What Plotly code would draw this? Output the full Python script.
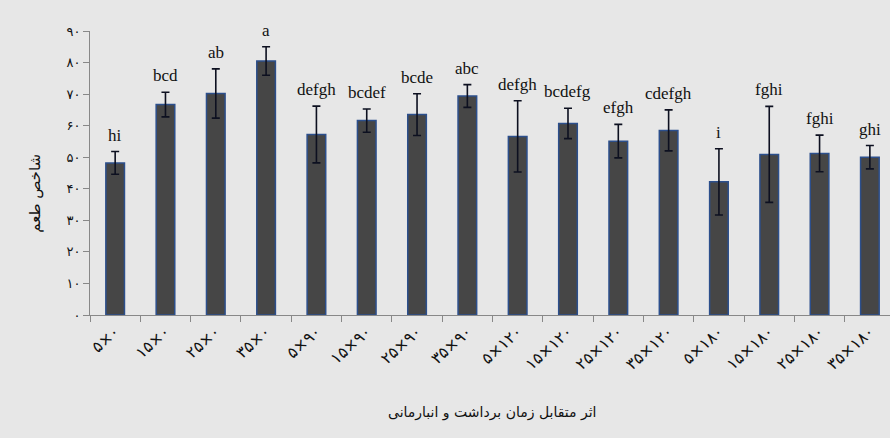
import plotly.graph_objects as go

categories = ["۵×۰", "۱۵×۰", "۲۵×۰", "۳۵×۰",
              "۵×۹۰", "۱۵×۹۰", "۲۵×۹۰", "۳۵×۹۰",
              "۵×۱۲۰", "۱۵×۱۲۰", "۲۵×۱۲۰", "۳۵×۱۲۰",
              "۵×۱۸۰", "۱۵×۱۸۰", "۲۵×۱۸۰", "۳۵×۱۸۰"]
values = [48.2, 66.7, 70.2, 80.5, 57.2, 61.6, 63.5, 69.4,
          56.6, 60.7, 55.1, 58.5, 42.2, 50.9, 51.2, 50.0]
errors = [3.6, 3.9, 7.8, 4.5, 9.0, 3.7, 6.6, 3.6,
          11.3, 4.8, 5.3, 6.5, 10.5, 15.2, 5.8, 3.7]
letters = ["hi", "bcd", "ab", "a", "defgh", "bcdef", "bcde", "abc",
           "defgh", "bcdefg", "efgh", "cdefgh", "i", "fghi", "fghi", "ghi"]
ytick_vals = [0, 10, 20, 30, 40, 50, 60, 70, 80, 90]
ytick_text = ["۰", "۱۰", "۲۰", "۳۰", "۴۰", "۵۰", "۶۰", "۷۰", "۸۰", "۹۰"]
y_title = "شاخص طعم"
x_title = "اثر متقابل زمان برداشت و انبارمانی"

bg = "#e7e7e7"
fig = go.Figure()
fig.add_trace(go.Bar(
    x=categories, y=values,
    marker=dict(color="#464646", line=dict(color="#2c4f8c", width=1.5)),
    width=0.37,
    error_y=dict(type="data", array=errors, visible=True,
                 color="#0d1020", thickness=1.6, width=4),
))
for c, v, e, t in zip(categories, values, errors, letters):
    fig.add_annotation(x=c, y=v + e, text=t, showarrow=False,
                       yanchor="bottom", yshift=5,
                       font=dict(family="Liberation Serif", size=17, color="#111"))

fig.add_annotation(xref="paper", yref="paper", x=-0.069, y=0.43,
                   xanchor="center", yanchor="middle",
                   text=y_title, textangle=-90, showarrow=False,
                   font=dict(family="DejaVu Sans", size=15, color="#111"))
fig.add_annotation(xref="paper", yref="paper", x=0.503, y=-0.345,
                   xanchor="center", yanchor="middle",
                   text=x_title, showarrow=False,
                   font=dict(family="DejaVu Sans", size=14, color="#111"))

fig.update_layout(
    width=890, height=438,
    margin=dict(l=90, r=0, t=31, b=123),
    paper_bgcolor=bg, plot_bgcolor=bg,
    showlegend=False,
    xaxis=dict(type="category", range=[-0.5, 15.4], tickson="boundaries",
               ticks="outside", ticklen=6, tickcolor="#888",
               showline=True, linecolor="#888", linewidth=1,
               showgrid=False, tickangle=-42,
               tickfont=dict(family="DejaVu Sans", size=16, color="#111")),
    yaxis=dict(range=[0, 90], tickvals=ytick_vals, ticktext=ytick_text,
               ticks="outside", ticklen=6, tickcolor="#888",
               showline=True, linecolor="#888", linewidth=1,
               showgrid=False, zeroline=False,
               tickfont=dict(family="DejaVu Sans", size=13, color="#111")),
)
fig.write_html("out.html", config={"displayModeBar": False},
               post_script="document.body.style.margin='0';document.body.style.overflow='hidden';")
